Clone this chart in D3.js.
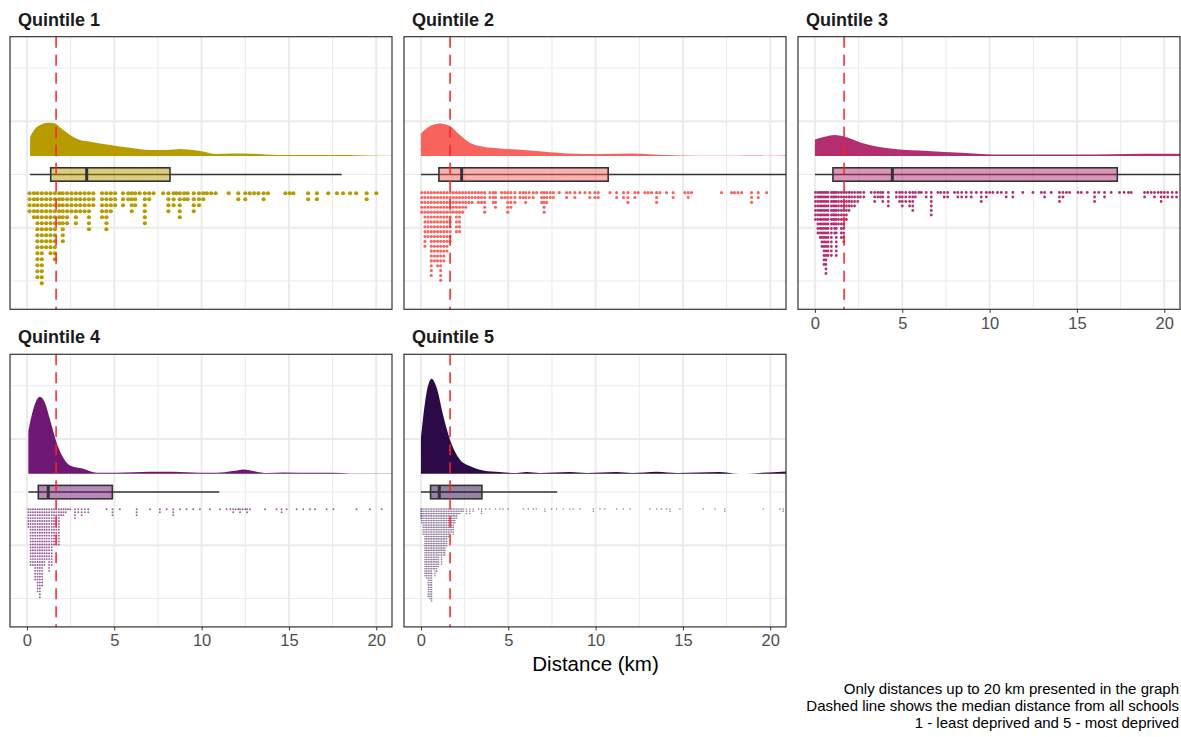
<!DOCTYPE html>
<html>
<head>
<meta charset="utf-8">
<script src="https://cdn.jsdelivr.net/npm/d3@7"></script>
<style>
  body { margin: 0; background: #fff; font-family: "Liberation Sans", Arial, sans-serif; }
</style>
</head>
<body>
<div id="chart"></div>
<script>
// ---- data ----
var quintiles = ["Quintile 1", "Quintile 2", "Quintile 3", "Quintile 4", "Quintile 5"];
var colours = ["#B89B00", "#F9635E", "#B42E6F", "#6E1773", "#2B0A47"];
var medianAll = 1.67;

// [lower whisker, Q1, median, Q3, upper whisker] in km
var boxStats = [
  [0.18, 1.36, 3.42, 8.19, 18.02],
  [0.0, 1.03, 2.33, 10.72, 22],
  [0.0, 1.03, 4.43, 17.31, 22],
  [0.08, 0.65, 1.22, 4.89, 11.01],
  [0.0, 0.55, 1.05, 3.49, 7.8]
];

// density curves: [km, relative density]
var densQ1 = [[0.18,0.19],[0.45,0.27],[0.75,0.31],[1.05,0.33],[1.32,0.333],[1.61,0.327],[1.9,0.287],[2.2,0.245],[2.47,0.21],[3.04,0.16],[3.62,0.143],[4.76,0.11],[5.9,0.083],[7.05,0.06],[8.0,0.06],[8.76,0.07],[9.9,0.05],[10.86,0.02],[11.8,0.027],[12.96,0.023],[14.3,0.01],[15.6,0.01],[17.5,0.01],[19.45,0.007],[20.9,0.003]];
var densQ2 = [[0.0,0.227],[0.52,0.30],[1.09,0.327],[1.66,0.30],[2.23,0.21],[2.8,0.133],[3.57,0.093],[4.52,0.077],[6.43,0.053],[8.34,0.027],[10.25,0.02],[12.1,0.027],[14.06,0.01],[15.9,0.003],[17.87,0.003],[20.9,0.007]];
var densQ3 = [[0.0,0.167],[0.55,0.193],[1.12,0.21],[1.7,0.193],[2.65,0.133],[3.6,0.093],[4.56,0.07],[6.47,0.05],[8.37,0.033],[10.28,0.017],[12.19,0.017],[14.1,0.017],[16.0,0.017],[17.9,0.02],[19.82,0.023],[20.9,0.023]];
var densQ4 = [[0.08,0.427],[0.36,0.643],[0.74,0.77],[1.03,0.71],[1.32,0.543],[1.7,0.31],[2.08,0.16],[2.46,0.083],[3.23,0.05],[4.0,0.01],[5.13,0.01],[7.04,0.02],[8.38,0.02],[9.9,0.01],[10.86,0.01],[11.81,0.027],[12.39,0.043],[13.15,0.02],[13.72,0.007],[14.68,0.013],[16.58,0.01],[17.54,0.01],[18.5,0.003],[20.9,0.003]];
var densQ5 = [[0.0,0.36],[0.32,0.81],[0.61,0.95],[0.9,0.86],[1.28,0.577],[1.66,0.343],[2.23,0.143],[2.8,0.077],[3.57,0.033],[4.52,0.017],[5.48,0.007],[6.05,0.017],[6.8,0.007],[8.53,0.017],[9.5,0.007],[11.2,0.017],[12.1,0.007],[13.5,0.02],[14.7,0.007],[17.1,0.017],[17.9,0.003],[18.6,0.0],[19.4,0.007],[20.9,0.023]];

// dot columns: [km, number of schools stacked]
var dotsQ1 = [[0.15,4],[0.4,5],[0.6,15],[0.85,16],[1.1,10],[1.35,11],[1.6,12],[1.85,6],[2.05,9],[2.3,6],[2.55,4],[2.8,6],[3.05,4],[3.3,4],[3.55,7],[3.8,3],[4.3,5],[4.55,7],[4.8,4],[5.05,3],[5.5,3],[5.8,2],[6.0,4],[6.2,3],[6.45,1],[6.75,6],[7.0,2],[7.25,1],[7.8,1],[8.1,4],[8.4,3],[8.55,1],[8.75,5],[9.0,2],[9.2,2],[9.55,4],[9.85,3],[10.1,2],[10.3,1],[10.55,1],[10.8,1],[11.55,1],[12.1,2],[12.5,2],[12.75,1],[13.0,1],[13.25,1],[13.55,2],[13.8,1],[14.8,1],[15.05,1],[15.25,1],[16.1,2],[16.6,2],[17.25,1],[17.75,1],[18.1,1],[18.5,1],[18.85,1],[19.45,2],[20.0,1]];
var dotsQ2 = [[0.05,5],[0.23,12],[0.41,10],[0.59,18],[0.77,15],[0.95,16],[1.13,19],[1.31,15],[1.49,13],[1.67,11],[1.85,5],[2.03,9],[2.21,9],[2.39,5],[2.57,4],[2.75,3],[2.93,3],[3.11,2],[3.29,3],[3.47,3],[3.65,5],[3.95,2],[4.14,3],[4.27,4],[4.62,2],[4.8,2],[4.97,5],[5.15,4],[5.38,3],[5.67,2],[5.85,2],[6.0,3],[6.2,2],[6.43,2],[6.62,1],[6.91,3],[7.05,5],[7.2,3],[7.4,2],[7.58,2],[7.92,1],[8.34,2],[8.53,1],[8.81,2],[9.1,1],[9.39,1],[9.67,2],[9.96,2],[10.15,2],[10.82,1],[11.2,2],[11.6,2],[11.85,3],[12.25,2],[12.44,1],[12.82,1],[13.0,1],[13.2,1],[13.49,3],[13.68,1],[14.06,1],[14.44,2],[15.11,1],[15.3,2],[15.49,1],[17.21,1],[17.78,1],[17.95,1],[18.15,1],[18.36,1],[18.93,3],[19.31,2],[19.79,1]];
var dotsQ3 = [[0.03,7],[0.17,10],[0.3,11],[0.4,13],[0.52,17],[0.63,19],[0.75,15],[0.94,15],[1.05,8],[1.13,10],[1.22,15],[1.35,8],[1.51,11],[1.65,12],[1.8,7],[1.95,5],[2.1,4],[2.27,4],[2.45,3],[2.6,2],[2.8,2],[3.22,1],[3.42,3],[3.6,2],[3.75,2],[3.89,3],[4.2,4],[4.66,2],[4.85,3],[5.0,4],[5.2,3],[5.42,4],[5.6,5],[5.75,2],[5.95,1],[6.09,1],[6.37,2],[6.66,6],[7.04,1],[7.2,1],[7.4,2],[7.6,2],[7.99,1],[8.18,2],[8.4,2],[8.66,2],[8.95,2],[9.24,1],[9.52,3],[9.81,2],[10.0,1],[10.19,1],[10.45,1],[10.67,1],[10.95,2],[11.33,2],[11.9,1],[12.48,1],[12.96,1],[13.15,2],[13.53,1],[14.0,3],[14.2,2],[14.4,1],[14.58,1],[15.06,1],[15.25,1],[15.59,1],[16.01,3],[16.25,1],[16.58,2],[16.96,1],[17.44,1],[17.7,1],[17.95,1],[18.11,1],[18.87,2],[19.05,1],[19.25,1],[19.44,2],[19.65,1],[19.82,3],[20.0,2],[20.2,2],[20.45,2],[20.7,2]];
var dotsQ4 = [[0.08,7],[0.21,20],[0.34,20],[0.47,25],[0.61,29],[0.74,31],[0.87,27],[1.0,20],[1.13,18],[1.27,22],[1.42,20],[1.55,13],[1.68,13],[1.83,13],[1.96,3],[2.09,3],[2.22,2],[2.35,1],[2.48,1],[2.75,4],[2.94,2],[3.13,3],[3.32,2],[3.51,2],[4.56,1],[4.9,3],[5.32,1],[6.28,3],[7.04,1],[7.61,2],[8.0,1],[8.38,3],[8.76,1],[9.14,1],[9.52,1],[9.9,1],[10.48,1],[11.05,1],[11.43,1],[11.65,1],[11.81,2],[11.95,1],[12.1,1],[12.2,2],[12.35,1],[12.5,1],[12.6,2],[12.77,1],[13.63,1],[14.29,1],[14.58,2],[14.87,1],[15.44,1],[15.82,1],[16.2,1],[16.49,1],[17.16,1],[17.54,1],[18.87,1],[19.64,1],[20.31,1]];
var dotsQ5 = [[0.0,5],[0.04,7],[0.13,12],[0.23,30],[0.32,31],[0.42,39],[0.52,40],[0.61,41],[0.71,27],[0.8,30],[0.9,28],[0.99,26],[1.09,21],[1.18,25],[1.28,21],[1.37,21],[1.47,17],[1.57,13],[1.66,12],[1.75,11],[1.85,12],[1.94,7],[2.04,5],[2.13,3],[2.23,3],[2.33,2],[2.42,2],[2.61,3],[2.8,3],[2.99,2],[3.3,1],[3.47,3],[3.7,1],[3.95,1],[4.27,1],[4.52,1],[4.7,1],[5.0,1],[5.86,1],[6.15,1],[6.43,1],[6.6,1],[7.1,2],[7.48,1],[7.77,1],[8.15,1],[8.53,1],[8.72,1],[9.1,1],[9.87,2],[10.25,1],[10.53,1],[11.2,1],[11.58,1],[11.97,1],[13.11,1],[13.5,1],[13.78,1],[14.07,1],[14.26,2],[14.83,1],[16.16,1],[16.83,1],[17.4,2],[19.6,1],[20.55,1],[20.74,2]];

var densities = [densQ1, densQ2, densQ3, densQ4, densQ5];
var dotCols = [dotsQ1, dotsQ2, dotsQ3, dotsQ4, dotsQ5];

var xTicks = [0, 5, 10, 15, 20];
var xMinor = [2.5, 7.5, 12.5, 17.5];
var captionLines = [
  "Only distances up to 20 km presented in the graph",
  "Dashed line shows the median distance from all schools",
  "1 - least deprived and 5 - most deprived"
];

// ---- layout ----
var svgWidth = 1181;
var svgHeight = 737;
var panelW = 382;
var panelH = 272.6;
var panelPos = [[10, 36.7], [404, 36.7], [798, 36.7], [10, 354.3], [404, 354.3]];
var showAxis = [false, false, true, true, true];
var rowGap = [6, 4.87, 4.5, 2.93, 2.3];
var dotR = [2.1, 1.55, 1.4, 0.95, 0.8];
var dotAlpha = [1, 1, 1, 0.7, 0.55];

// y positions (arbitrary units, as in the raincloud)
var yMajor = [-1, 0];
var yMinor = [-1.5, -0.5, 0.5];
var densBase = -0.327;
var boxY = -0.5;
var boxHalf = 0.063;
var dotTop = -0.648;

var x = d3.scaleLinear().domain([-0.97, 20.9]).range([0, panelW]);
var y = d3.scaleLinear().domain([-1.767, 0.795]).range([panelH, 0]);
var densPx = d3.scaleLinear().domain([0, 1]).range([0, 100]);

var svg = d3.select("#chart")
  .append("svg")
  .attr("width", svgWidth)
  .attr("height", svgHeight)
  .style("font-family", "'Liberation Sans', Arial, sans-serif");

svg.append("rect").attr("width", svgWidth).attr("height", svgHeight).attr("fill", "#fff");

var defs = svg.append("defs");

quintiles.forEach(function(name, i) {
  var g = svg.append("g")
    .attr("transform", `translate(${panelPos[i][0]}, ${panelPos[i][1]})`);

  defs.append("clipPath").attr("id", "clip" + i)
    .append("rect").attr("width", panelW).attr("height", panelH);

  // title
  g.append("text")
    .attr("x", 8)
    .attr("y", -11)
    .attr("font-size", 18)
    .attr("font-weight", "bold")
    .attr("fill", "#1a1a1a")
    .text(name);

  var inner = g.append("g").attr("clip-path", `url(#clip${i})`);

  // grid
  inner.selectAll(".vminor").data(xMinor).enter().append("line")
    .attr("x1", d => x(d)).attr("x2", d => x(d))
    .attr("y1", 0).attr("y2", panelH)
    .attr("stroke", "#EBEBEB").attr("stroke-width", 1);
  inner.selectAll(".hminor").data(yMinor).enter().append("line")
    .attr("x1", 0).attr("x2", panelW)
    .attr("y1", d => y(d)).attr("y2", d => y(d))
    .attr("stroke", "#EBEBEB").attr("stroke-width", 1);
  inner.selectAll(".vmajor").data(xTicks).enter().append("line")
    .attr("x1", d => x(d)).attr("x2", d => x(d))
    .attr("y1", 0).attr("y2", panelH)
    .attr("stroke", "#EBEBEB").attr("stroke-width", 2);
  inner.selectAll(".hmajor").data(yMajor).enter().append("line")
    .attr("x1", 0).attr("x2", panelW)
    .attr("y1", d => y(d)).attr("y2", d => y(d))
    .attr("stroke", "#EBEBEB").attr("stroke-width", 2);

  // density (cloud)
  var area = d3.area()
    .x(d => x(d[0]))
    .y0(y(densBase))
    .y1(d => y(densBase) - densPx(d[1]))
    .curve(d3.curveMonotoneX);
  inner.append("path")
    .datum(densities[i])
    .attr("d", area)
    .attr("fill", colours[i]);

  // boxplot
  var b = boxStats[i];
  inner.append("line")
    .attr("x1", x(b[0])).attr("x2", x(b[4]))
    .attr("y1", y(boxY)).attr("y2", y(boxY))
    .attr("stroke", "#333").attr("stroke-width", 1.5);
  inner.append("rect")
    .attr("x", x(b[1]))
    .attr("width", x(b[3]) - x(b[1]))
    .attr("y", y(boxY + boxHalf))
    .attr("height", y(boxY - boxHalf) - y(boxY + boxHalf))
    .attr("fill", colours[i]).attr("fill-opacity", 0.5)
    .attr("stroke", "#333").attr("stroke-width", 1.6);
  inner.append("line")
    .attr("x1", x(b[2])).attr("x2", x(b[2]))
    .attr("y1", y(boxY + boxHalf)).attr("y2", y(boxY - boxHalf))
    .attr("stroke", "#333").attr("stroke-width", 3);

  // dots (rain)
  var flat = [];
  dotCols[i].forEach(function(c) {
    for (var k = 0; k < c[1]; k++) flat.push({ km: c[0], row: k });
  });
  var top = y(dotTop);
  inner.selectAll(".dot").data(flat).enter().append("circle")
    .attr("cx", d => x(d.km))
    .attr("cy", d => top + rowGap[i] / 2 + d.row * rowGap[i])
    .attr("r", dotR[i])
    .attr("fill", colours[i])
    .attr("fill-opacity", dotAlpha[i]);

  // median line for all schools
  inner.append("line")
    .attr("x1", x(medianAll)).attr("x2", x(medianAll))
    .attr("y1", 0).attr("y2", panelH)
    .attr("stroke", "#FF2020").attr("stroke-opacity", 0.85)
    .attr("stroke-width", 1.8)
    .attr("stroke-dasharray", "11 7");

  // border
  g.append("rect")
    .attr("width", panelW).attr("height", panelH)
    .attr("fill", "none").attr("stroke", "#333").attr("stroke-width", 1.2);

  if (showAxis[i]) {
    var axis = g.append("g")
      .attr("transform", `translate(0, ${panelH})`)
      .call(d3.axisBottom(x).tickValues(xTicks).tickSize(3.5).tickPadding(4).tickFormat(d3.format("d")));
    axis.select(".domain").remove();
    axis.selectAll("line").attr("stroke", "#333");
    axis.selectAll("text")
      .attr("fill", "#4D4D4D")
      .attr("font-size", 16.5)
      .attr("font-family", "'Liberation Sans', Arial, sans-serif");
  }
});

// x axis title
svg.append("text")
  .attr("x", 595.5)
  .attr("y", 671)
  .attr("text-anchor", "middle")
  .attr("font-size", 20.5)
  .attr("fill", "#000")
  .text("Distance (km)");

// caption
svg.selectAll(".caption").data(captionLines).enter().append("text")
  .attr("x", 1179)
  .attr("y", (d, k) => 694 + k * 17.2)
  .attr("text-anchor", "end")
  .attr("font-size", 15)
  .attr("fill", "#000")
  .text(d => d);
</script>
</body>
</html>
